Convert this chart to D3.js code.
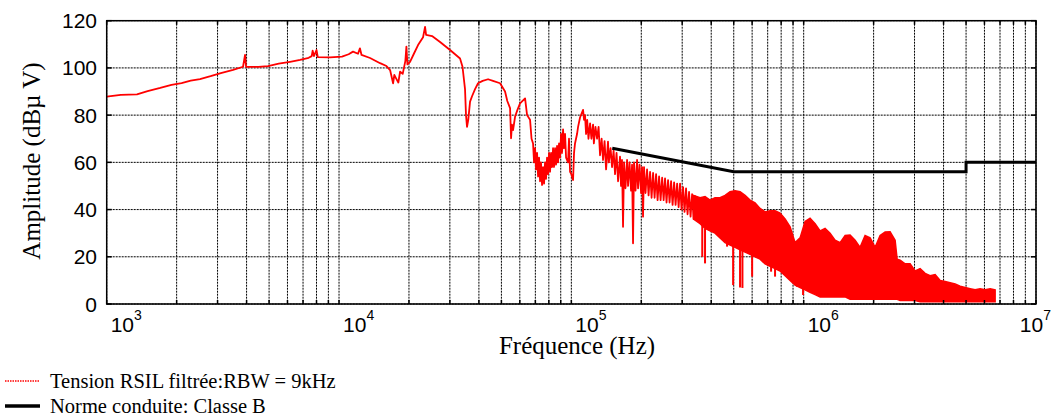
<!DOCTYPE html>
<html><head><meta charset="utf-8">
<script src="https://cdn.jsdelivr.net/npm/d3@7"></script>
<style>
html,body{margin:0;padding:0;background:#fff;}
svg{display:block;}
</style></head>
<body>
<svg id="c" width="1054" height="418"></svg>
<script>
// ---------- DATA ----------
const lineFreq = [1000,1150,1350,1500,1700,1900,2100,2300,2521,2800,3100,3500,3862,3940,3980,4500,4947,5500,6153,6800,7400,7629,7700,7800,8000,8100,9149,10300,11000,11488,12073,12300,12500,13601,15021,16000,16588,17088,17300,17603,18000,18315,18800,19300,19500,19700,20214,21000,21885,23000,23459,23700,25142,27222,30055,33184,34000,34863,35200,35560,36000,36644,37375,38500,39670,41500,43806,46000,49330,51834,53000,54477,55020,55500,56120,57240,58500,60148,63215,64480,66422,67400,68425,69100,69800,70500,71190,71900,72600,73336,74000,74800,75545,76300,77057,77800,78600,79380,80200,80980,81800,82600,83420,84200,85090,85900,86800,87660,88500,89410,90300,91200,92110,93000,93950,94900,96780,97700,98720,100000,101700,102700,103700,105800,106900,109000,112300,113400,114500,115700,117000,118500,120400,122000,124000,125000,127000,129000,131000,132900,135000,136900,139000,141100,143800,145000,147500,149700,152000,154200,156500,158900,162000,163600,165200,166900,168600,171000,173700,175400,178000,180700,182500,184300,186100,188900,191800,193700,196600,199600,201500,203500,205500,208600,211800,215000,218200,221500,224800,228200,231600,235100,238600,242200,245900,249600,253100,256900,260800,264700,268700,272800,276900,281000,285300,289600,293700,298100,302600,307100,311700,316400,321100,326000,330900,335900,340700];
const lineAmp = [87.8,88.6,88.8,90.2,91.5,92.8,93.6,94.6,95.3,96.5,97.8,99.2,100.5,105.5,100.5,100.4,100.8,101.8,102.6,103.4,104.3,105,107.3,105,107.6,104.6,104.5,104.8,105.8,106.9,106,108.3,105.5,104.2,102,100.8,99.1,93.5,97,95.6,93.8,98.4,97.5,103,109,101.5,102.6,106,109.7,113,117.4,114,113.5,111,107.6,104,100.5,91,80,75,78,85.7,88,91,93.5,94.5,95.2,94.5,93.5,90,86,83,70.2,76,73.7,79.3,82,85,87.1,80,78,70,68,60,66,57,64,54,62,52,60,50.4,58,51,60,53,62,55,64,56,64,58,66,58,66,59,67,60,68,62,72,64,74,66,72,62,60,70,56,55,52.5,64,68,72,75,79,82.2,78,80,72,78,70,76.5,70,76,68,75,70,75,63,70,61,69,57,68.8,60,66,58,65,55,64,52,62.4,50,61,32.7,60,49,61,50,60,48,59,25.7,60,48,61,49,59,47,58,37,58,47,57,46,56,45,55.5,45,55,44,54,44,53.5,44,53.2,43,52.5,43,52,42,51.5,42,51,41,51,40,49.5,39,49,38,47.5,37,46.5,36,46];

const bandFreq = [335900,358100,376200,395300,415300,436500,458700,482200,506600,532300,559300,587700,617600,649000,682100,716700,753100,791500,831700,874000,918400,964900,1014000,1065000,1120000,1177000,1236000,1299000,1365000,1435000,1508000,1584000,1665000,1749000,1838000,1932000,2030000,2133000,2242000,2355000,2475000,2525000,2601000,2733000,2872000,3018000,3171000,3332000,3501000,3680000,3867000,4063000,4269000,4486000,4714000,4954000,5206000,5470000,5748000,6040000,6347000,6670000];
const bandHigh = [46,45,45.5,44,45,45,46,47.6,48,47.6,46,44,42.8,40.5,39,39.5,39.5,38.5,36,32.7,26,28,35,36.3,34,31,32,30,27,26,29,29.2,27,24,29,28,24,29,30.5,30.6,27,19,18.6,17,17,14,15,13,12,12.5,10,9.5,9,8.5,7.5,7,6.5,6,6.5,6,6.5,6];
const bandLow = [36,34,32,31,30,28,26,25,24,23,22,21,20,19,17,16,15,14,12,10,8,7,6,5,4,3,3,3,3,3,3,2,2,2,2,2,2,2,2,2,2,2,1.5,1.5,1.5,1.5,1,1,1,1,1,1,1,1,1,1,1,1,1,1,1,1];

const dipFreq = [366000,376200,403200,428000,468000,497000,532300,545000,600000,724000,753000,900000,937000,994000];
const dipTop  = [34,32,31,29,26,25,23,23,21,16,15,11,10,8];
const dipAmp  = [20,17.2,31,30,24.3,8,7,6.8,11.6,13.7,11.6,17.4,7.3,3.8];

const normFreq = [150000,500000,5000000,5000000,10000000];
const normAmp  = [66,56,56,60,60];

const yTicks = [0,20,40,60,80,100,120];
const xDecades = [1e3,1e4,1e5,1e6,1e7];
const xExponents = ["3","4","5","6","7"];

const legendLabels = ["Tension RSIL filtrée:RBW = 9kHz","Norme conduite: Classe B"];
const xTitle = "Fréquence (Hz)";
const yTitle = "Amplitude (dBµ V)";

// ---------- LAYOUT ----------
const L = 106.7, R = 1036, T = 20.7, B = 304;
const svg = d3.select("#c");
const x = d3.scaleLog().domain([1e3,1e7]).range([L,R]);
const y = d3.scaleLinear().domain([0,120]).range([B,T]);

const minor = [];
for (let d=0; d<4; d++) for (let k=1;k<=9;k++) minor.push(k*xDecades[d]);
minor.push(1e7);

// grid
const g = svg.append("g");
g.selectAll("line.vx").data(minor).join("line")
 .attr("x1",d=>x(d)).attr("x2",d=>x(d)).attr("y1",T).attr("y2",B)
 .attr("stroke","#000").attr("stroke-width",1).attr("stroke-dasharray","2,1");
g.selectAll("line.hy").data(yTicks).join("line")
 .attr("x1",L).attr("x2",R).attr("y1",d=>y(d)).attr("y2",d=>y(d))
 .attr("stroke","#000").attr("stroke-width",1).attr("stroke-dasharray","2,1");

// band
const area = d3.area().x((d,i)=>x(bandFreq[i])).y0((d,i)=>y(bandLow[i])).y1((d,i)=>y(bandHigh[i]));
svg.append("path").datum(bandFreq).attr("d",area).attr("fill","#ff0000").attr("stroke","#ff0000").attr("stroke-width",1.5);
svg.append("g").selectAll("line").data(dipFreq).join("line")
 .attr("x1",d=>x(d)).attr("x2",d=>x(d)).attr("y1",(d,i)=>y(dipTop[i])).attr("y2",(d,i)=>y(dipAmp[i]))
 .attr("stroke","#ff0000").attr("stroke-width",2);

// spectrum line
const line = d3.line().x((d,i)=>x(lineFreq[i])).y((d,i)=>y(lineAmp[i]));
svg.append("path").datum(lineFreq).attr("d",line).attr("fill","none").attr("stroke","#ff0000").attr("stroke-width",1.8).attr("stroke-linejoin","round");

// norm
const nline = d3.line().x((d,i)=>x(normFreq[i])).y((d,i)=>y(normAmp[i]));
svg.append("path").datum(normFreq).attr("d",nline).attr("fill","none").attr("stroke","#000").attr("stroke-width",3);

// frame
svg.append("rect").attr("x",L).attr("y",T).attr("width",R-L).attr("height",B-T).attr("fill","none").attr("stroke","#000").attr("stroke-width",1.5);
// ticks
const tk = svg.append("g").attr("stroke","#000").attr("stroke-width",1.5);
tk.selectAll("line.tb").data(minor).join("line").attr("x1",d=>x(d)).attr("x2",d=>x(d)).attr("y1",B).attr("y2",B-4);
tk.selectAll("line.tt").data(minor).join("line").attr("x1",d=>x(d)).attr("x2",d=>x(d)).attr("y1",T).attr("y2",T+4);
tk.selectAll("line.tl").data(yTicks).join("line").attr("x1",L).attr("x2",L+5).attr("y1",d=>y(d)).attr("y2",d=>y(d));
tk.selectAll("line.tr").data(yTicks).join("line").attr("x1",R).attr("x2",R-5).attr("y1",d=>y(d)).attr("y2",d=>y(d));

// y tick labels
svg.append("g").selectAll("text").data(yTicks).join("text")
 .attr("x",97).attr("y",d=>y(d)).attr("dy","0.36em").attr("text-anchor","end")
 .attr("font-family","Liberation Sans, Arial, sans-serif").attr("font-size",21).text(d=>d);

// x tick labels
const xl = svg.append("g").selectAll("text").data(xDecades).join("text")
 .attr("x",d=>x(d)+4).attr("y",332).attr("text-anchor","start")
 .attr("font-family","Liberation Sans, Arial, sans-serif").attr("font-size",21);
xl.append("tspan").text("10");
xl.append("tspan").attr("dy",-12).attr("font-size",14).text((d,i)=>xExponents[i]);
xl.each(function(){
  const w = this.getComputedTextLength();
  const x0 = +this.getAttribute("x");
  if (x0 + w > 1051) this.setAttribute("x", 1051 - w);
});

// titles
svg.append("text").attr("x",577).attr("y",354).attr("text-anchor","middle")
 .attr("font-family","Liberation Serif, Times New Roman, serif").attr("font-size",25).text(xTitle);
svg.append("text").attr("transform","translate(40,161) rotate(-90)").attr("text-anchor","middle")
 .attr("font-family","Liberation Serif, Times New Roman, serif").attr("font-size",25).text(yTitle);

// legend
const lg = svg.append("g");
lg.append("line").attr("x1",5).attr("x2",40).attr("y1",381).attr("y2",381).attr("stroke","#ff0000").attr("stroke-width",1.5).attr("stroke-dasharray","1.5,1");
lg.append("line").attr("x1",5).attr("x2",40).attr("y1",406).attr("y2",406).attr("stroke","#000").attr("stroke-width",3.5);
lg.selectAll("text").data(legendLabels).join("text")
 .attr("x",50).attr("y",(d,i)=>388+i*25)
 .attr("font-family","Liberation Serif, Times New Roman, serif").attr("font-size",20.5).text(d=>d);
</script>
</body></html>
